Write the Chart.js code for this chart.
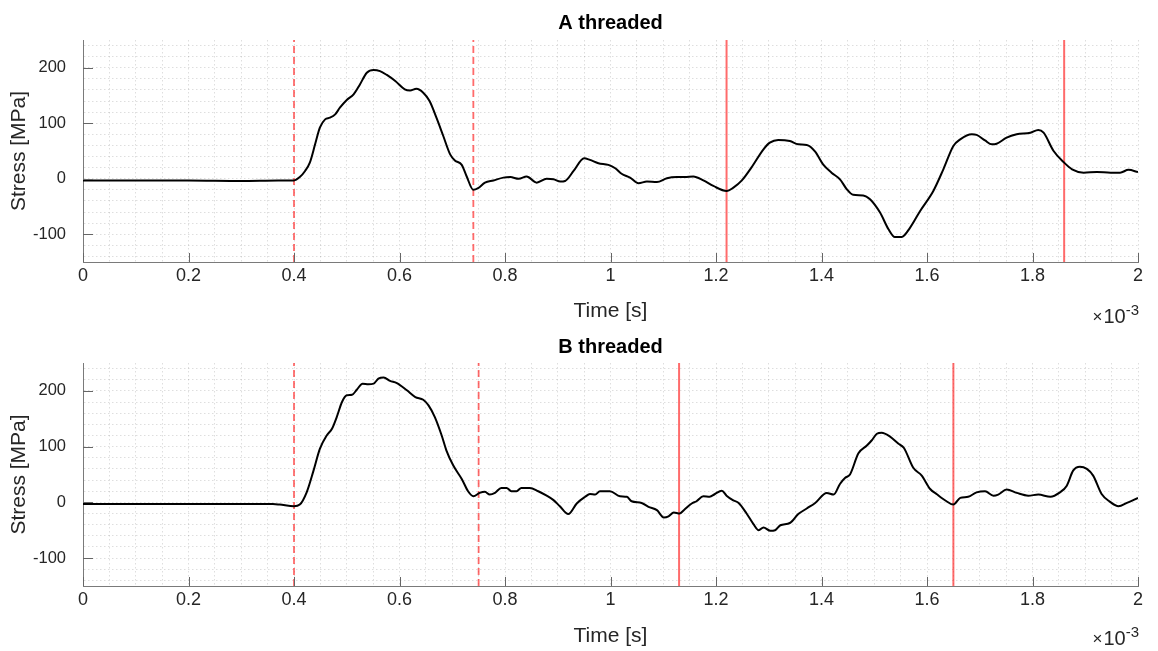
<!DOCTYPE html>
<html>
<head>
<meta charset="utf-8">
<script src="https://cdn.jsdelivr.net/npm/chart.js@4.4.1/dist/chart.umd.min.js"></script>
<style>
  html, body { margin: 0; padding: 0; background: #fff; }
  #wrap { width: 1158px; height: 651px; }
  .panel { position: relative; width: 1158px; }
</style>
</head>
<body>
<div id="wrap">
  <div class="panel" style="height:326px"><canvas id="chartA"></canvas></div>
  <div class="panel" style="height:325px"><canvas id="chartB"></canvas></div>
</div>
<script>
// Time in units of 1e-3 s (the axis shows x10^-3)
const timeA = [
  0, 0.1, 0.2, 0.3, 0.37, 0.4, 0.411, 0.421, 0.43, 0.44,
  0.449, 0.459, 0.468, 0.478, 0.487, 0.5, 0.513, 0.525, 0.538, 0.551,
  0.563, 0.576, 0.592, 0.61, 0.62, 0.632, 0.645, 0.657, 0.67, 0.683,
  0.696, 0.705, 0.718, 0.727, 0.74, 0.749, 0.762, 0.778, 0.797, 0.81,
  0.826, 0.841, 0.86, 0.879, 0.892, 0.905, 0.914, 0.93, 0.95, 0.961,
  0.977, 0.996, 1.009, 1.021, 1.037, 1.053, 1.069, 1.088, 1.107, 1.126,
  1.141, 1.157, 1.176, 1.195, 1.22, 1.233, 1.249, 1.267, 1.29, 1.302,
  1.318, 1.34, 1.356, 1.372, 1.388, 1.403, 1.419, 1.435, 1.448, 1.46,
  1.479, 1.492, 1.511, 1.527, 1.539, 1.552, 1.568, 1.587, 1.612, 1.631,
  1.65, 1.663, 1.685, 1.694, 1.71, 1.723, 1.732, 1.751, 1.77, 1.796,
  1.811, 1.821, 1.84, 1.86, 1.875, 1.897, 1.922, 1.948, 1.966, 1.982,
  2.0
];
const stressA = [
  -3, -3, -3, -4, -3, -3, 3, 14, 29, 62,
  92, 107, 110, 116, 128, 142, 152, 170, 191, 196,
  194, 187, 176, 161, 159, 162, 155, 140, 110, 77,
  44, 33, 25, 5, -20, -17, -7, -3, 2, 3,
  0, 4, -7, 0, -1, -5, -4, 14, 37, 34,
  28, 25, 19, 9, 2, -8, -5, -6, 1, 3,
  3, 4, -3, -13, -22, -16, -3, 20, 53, 65,
  70, 68, 62, 61, 49, 26, 11, -1, -19, -29,
  -30, -37, -61, -91, -105, -105, -88, -58, -22, 17,
  59, 71, 80, 79, 69, 62, 63, 74, 80, 83,
  88, 83, 50, 29, 17, 11, 12, 11, 11, 16,
  12
];

const timeB = [
  0, 0.1, 0.2, 0.3, 0.36, 0.373, 0.4, 0.411, 0.424, 0.437,
  0.449, 0.462, 0.472, 0.481, 0.491, 0.5, 0.51, 0.519, 0.53, 0.541,
  0.551, 0.56, 0.57, 0.582, 0.595, 0.614, 0.63, 0.645, 0.655, 0.667,
  0.68, 0.689, 0.702, 0.718, 0.73, 0.74, 0.752, 0.762, 0.771, 0.781,
  0.793, 0.803, 0.812, 0.822, 0.831, 0.847, 0.863, 0.879, 0.892, 0.904,
  0.92, 0.936, 0.952, 0.961, 0.971, 0.98, 0.999, 1.018, 1.031, 1.04,
  1.059, 1.072, 1.088, 1.101, 1.11, 1.12, 1.131, 1.139, 1.154, 1.163,
  1.176, 1.188, 1.198, 1.211, 1.22, 1.232, 1.243, 1.258, 1.271, 1.281,
  1.29, 1.303, 1.312, 1.322, 1.34, 1.356, 1.372, 1.388, 1.41, 1.423,
  1.435, 1.445, 1.454, 1.47, 1.486, 1.495, 1.505, 1.514, 1.53, 1.546,
  1.556, 1.574, 1.59, 1.606, 1.618, 1.637, 1.65, 1.663, 1.678, 1.694,
  1.71, 1.726, 1.735, 1.751, 1.77, 1.792, 1.811, 1.834, 1.852, 1.865,
  1.877, 1.89, 1.903, 1.915, 1.931, 1.947, 1.963, 1.979, 2.0
];
const stressB = [
  -3, -3, -3, -3, -3, -4, -7, -4, 18, 57,
  96, 120, 132, 153, 180, 192, 193, 202, 213, 212,
  213, 222, 224, 218, 214, 201, 189, 184, 174, 153,
  120, 93, 66, 42, 20, 11, 17, 19, 14, 17,
  26, 26, 20, 20, 26, 26, 20, 12, 4, -7,
  -21, -2, 10, 15, 14, 20, 20, 11, 10, 2,
  -1, -8, -14, -27, -25, -18, -20, -14, -2, 2,
  11, 10, 15, 21, 12, 4, -1, -20, -39, -50,
  -45, -51, -50, -41, -37, -21, -11, -1, 17, 14,
  33, 44, 50, 88, 102, 111, 123, 125, 118, 105,
  98, 62, 48, 24, 15, 2, -4, 8, 10, 18,
  20, 12, 14, 23, 17, 12, 14, 10, 18, 30,
  57, 64, 60, 48, 15, 1, -7, -1, 8
];

// red marker lines
const dashedA = [0.4, 0.74];
const solidA = [1.22, 1.86];
const dashedB = [0.4, 0.75];
const solidB = [1.13, 1.65];

// axes
const xMajorTicks = [0, 0.2, 0.4, 0.6, 0.8, 1, 1.2, 1.4, 1.6, 1.8, 2];
const xTickLabels = ['0', '0.2', '0.4', '0.6', '0.8', '1', '1.2', '1.4', '1.6', '1.8', '2'];
const yMajorTicks = [-100, 0, 100, 200];
const yTickLabels = ['-100', '0', '100', '200'];
const xRange = [0, 2];
const yRange = [-150, 250];

const FONT = '"Liberation Sans", Arial, Helvetica, sans-serif';
Chart.defaults.font.family = FONT;
Chart.defaults.color = '#262626';

const redColor = 'rgba(255, 0, 0, 0.58)';
const gridColor = 'rgba(0, 0, 0, 0.13)';
const axisColor = '#7a7a7a';

function findMajor(list, v) {
  return list.findIndex((m) => Math.abs(m - v) < 1e-6);
}

// title, inward tick marks and the x10^-3 exponent, MATLAB style
const decorPlugin = {
  id: 'decor',
  afterDraw(chart, args, opts) {
    const { ctx, chartArea } = chart;
    const xs = chart.scales.x;
    const ys = chart.scales.y;
    ctx.save();

    // inward ticks
    ctx.strokeStyle = '#666';
    ctx.lineWidth = 1;
    ctx.beginPath();
    xMajorTicks.forEach((v) => {
      const px = Math.round(xs.getPixelForValue(v)) + 0.5;
      ctx.moveTo(px, chartArea.bottom);
      ctx.lineTo(px, chartArea.bottom - 9);
    });
    yMajorTicks.forEach((v) => {
      const py = Math.round(ys.getPixelForValue(v)) + 0.5;
      ctx.moveTo(chartArea.left, py);
      ctx.lineTo(chartArea.left + 10, py);
    });
    ctx.stroke();

    // title
    ctx.fillStyle = '#000';
    ctx.font = 'bold 20px ' + FONT;
    ctx.textAlign = 'center';
    ctx.textBaseline = 'alphabetic';
    ctx.fillText(opts.title, (chartArea.left + chartArea.right) / 2, opts.titleBase);

    // exponent label
    const right = chartArea.right + 1;
    const base = chartArea.bottom + opts.expOffset;
    ctx.fillStyle = '#262626';
    ctx.textAlign = 'right';
    ctx.font = '15px ' + FONT;
    ctx.fillText('-3', right, base - 8);
    const w3 = ctx.measureText('-3').width;
    ctx.font = '20px ' + FONT;
    ctx.fillText('10', right - w3, base);
    const w10 = ctx.measureText('10').width;
    ctx.font = '17px ' + FONT;
    ctx.fillText('\u00d7', right - w3 - w10 - 1, base - 1);
    ctx.restore();
  }
};

function vline(x, dashed) {
  return {
    data: [{ x: x, y: yRange[0] }, { x: x, y: yRange[1] }],
    borderColor: redColor,
    borderWidth: dashed ? 1.8 : 2,
    borderDash: dashed ? [7, 4] : [],
    pointRadius: 0,
    tension: 0
  };
}

function makeChart(id, title, times, stress, dashed, solid, geom) {
  const points = times.map((t, i) => ({ x: t, y: stress[i] }));
  const datasets = [
    {
      data: points,
      borderColor: '#000',
      borderWidth: 2,
      pointRadius: 0,
      cubicInterpolationMode: 'monotone'
    }
  ];
  dashed.forEach((x) => datasets.push(vline(x, true)));
  solid.forEach((x) => datasets.push(vline(x, false)));

  return new Chart(document.getElementById(id), {
    type: 'line',
    data: { datasets },
    plugins: [decorPlugin],
    options: {
      responsive: true,
      maintainAspectRatio: false,
      animation: false,
      layout: { padding: { top: geom.top, right: 20, left: 0, bottom: 0 } },
      plugins: {
        legend: { display: false },
        tooltip: { enabled: false },
        decor: { title: title, titleBase: geom.titleBase, expOffset: geom.expOffset }
      },
      scales: {
        x: {
          type: 'linear',
          min: xRange[0],
          max: xRange[1],
          afterBuildTicks(scale) {
            const ticks = [];
            for (let k = 0; k <= 40; k++) ticks.push({ value: Math.round(k * 5) / 100 });
            scale.ticks = ticks;
          },
          afterFit(scale) { scale.height = geom.xAxisHeight; },
          ticks: {
            autoSkip: false,
            maxRotation: 0,
            padding: 3,
            color: '#262626',
            font: { size: 18 },
            callback(v) {
              const i = findMajor(xMajorTicks, v);
              return i >= 0 ? xTickLabels[i] : '';
            }
          },
          grid: { color: gridColor, lineWidth: 1, drawTicks: false },
          border: { color: axisColor, width: 1, dash: [1.5, 2.5] },
          title: {
            display: true,
            text: 'Time [s]',
            font: { size: 21 },
            color: '#262626',
            padding: { top: 0, bottom: geom.xTitlePad }
          }
        },
        y: {
          type: 'linear',
          min: yRange[0],
          max: yRange[1],
          afterBuildTicks(scale) {
            const ticks = [];
            for (let v = -140; v <= 240; v += 20) ticks.push({ value: v });
            scale.ticks = ticks;
          },
          afterFit(scale) { scale.width = 83; },
          ticks: {
            autoSkip: false,
            padding: 17,
            color: '#262626',
            font: { size: 16.5 },
            callback(v) {
              const i = findMajor(yMajorTicks, v);
              return i >= 0 ? yTickLabels[i] : '';
            }
          },
          grid: { color: gridColor, lineWidth: 1, drawTicks: false },
          border: { color: axisColor, width: 1, dash: [1.5, 2.5] },
          title: {
            display: true,
            text: 'Stress [MPa]',
            font: { size: 21 },
            color: '#262626',
            padding: { top: 7, bottom: 0 }
          }
        }
      }
    }
  });
}

makeChart('chartA', 'A threaded', timeA, stressA, dashedA, solidA,
  { top: 40, xAxisHeight: 64, xTitlePad: 2, titleBase: 29, expOffset: 61 });
makeChart('chartB', 'B threaded', timeB, stressB, dashedB, solidB,
  { top: 37, xAxisHeight: 65, xTitlePad: 2, titleBase: 27, expOffset: 59 });
</script>
</body>
</html>
